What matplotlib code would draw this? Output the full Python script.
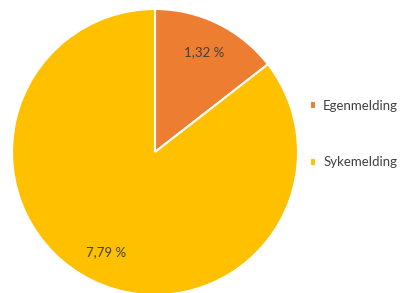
import matplotlib
matplotlib.use("Agg")
import matplotlib.pyplot as plt

labels = ["Egenmelding", "Sykemelding"]
values = [1.32, 7.79]
colors = ["#ED7D31", "#FFC000"]

plt.rcParams['font.family'] = ['Lato', 'DejaVu Sans']

W, H = 402, 293
fig = plt.figure(figsize=(W / 100, H / 100), dpi=100)

# pie centre at (155, 152) px from top-left, radius 143 px
cx, cy, r = 155, 152, 143
ax = fig.add_axes([(cx - r) / W, (H - cy - r) / H, 2 * r / W, 2 * r / H])

wedges, texts, autotexts = ax.pie(
    values, colors=colors, startangle=90, counterclock=False,
    autopct=lambda p: f"{p * sum(values) / 100:.2f} %".replace(".", ","),
    pctdistance=0.78,
    wedgeprops=dict(edgecolor="white", linewidth=1.5),
    textprops=dict(color="#404040", fontsize=9.5),
)
ax.set_xlim(-1, 1)
ax.set_ylim(-1, 1)
ax.set_aspect("auto")

fig.legend(wedges, labels, loc="center left", bbox_to_anchor=(298 / W, (H - 134) / H),
           frameon=False, fontsize=9.5, handlelength=0.5, handleheight=0.5,
           handletextpad=0.5, labelspacing=3.4, labelcolor="#404040")

fig.savefig("out.png", dpi=100)
